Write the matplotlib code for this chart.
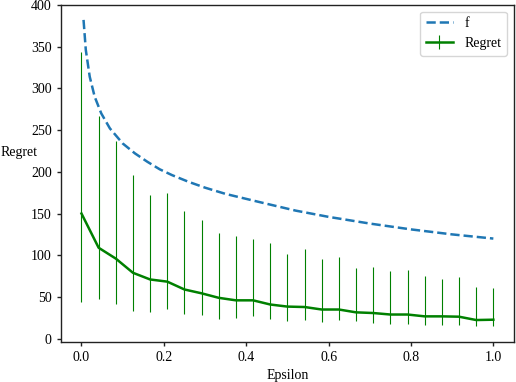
import numpy as np
import matplotlib
matplotlib.use("Agg")
import matplotlib.pyplot as plt

plt.rcParams['font.family'] = ['Liberation Serif', 'DejaVu Serif']
plt.rcParams['font.size'] = 10

# f curve
f_x = [0.005, 0.0105, 0.02, 0.032, 0.048, 0.069, 0.10, 0.13, 0.16, 0.19, 0.22, 0.26,
       0.30, 0.35, 0.43, 0.52, 0.60, 0.70, 0.80, 0.90, 1.0]
f_y = [382, 346, 314, 290, 270, 252, 234, 222, 212, 203, 196, 188,
       181, 173.5, 164, 153.5, 146, 138, 131, 125, 120]

# Regret series
eps = [i / 24 for i in range(25)]
regret = [150, 109, 96, 79, 71, 68.4, 59, 54.4, 49, 46, 46, 41, 38.5, 38, 35, 35,
          31.6, 30.8, 29, 29, 26.8, 26.8, 26.4, 22.4, 22.8]
upper = [344, 267, 237, 196, 172, 175, 153, 142, 127, 123, 120, 115, 102, 107, 95, 98,
         85, 86, 81, 82, 75.6, 72, 74, 62, 61]
lower = [44, 47.5, 42, 33, 31.5, 36, 30, 28, 24, 25, 27, 23.5, 21.5, 23, 20, 22,
         20.8, 18.8, 18, 18, 17, 17, 17, 14.8, 14.8]

fig = plt.figure(figsize=(5.16, 3.82), dpi=100)
ax = fig.add_axes([0.118, 0.1055, 0.878, 0.8825])

ax.plot(f_x, f_y, linestyle='--', color='#1f77b4', linewidth=1.8, label='f')
r = np.array(regret)
yerr = [r - np.array(lower), np.array(upper) - r]
ax.errorbar(eps, regret, yerr=yerr, color='green', linewidth=1.8,
            elinewidth=0.8, capsize=0, label='Regret')

ax.set_xticks([0.0, 0.2, 0.4, 0.6, 0.8, 1.0])
ax.set_yticks([0, 50, 100, 150, 200, 250, 300, 350, 400])
ax.set_xlabel('Epsilon')
ax.set_ylabel('Regret', rotation=0, va='center', ha='center')
ax.yaxis.set_label_coords(-0.093, 0.5626)
for s in ax.spines.values():
    s.set_linewidth(1.0)
    s.set_color('#222222')
ax.tick_params(length=3, width=1.0, color='#222222')
ax.legend(loc='upper right')

fig.savefig('out.png', dpi=100)
